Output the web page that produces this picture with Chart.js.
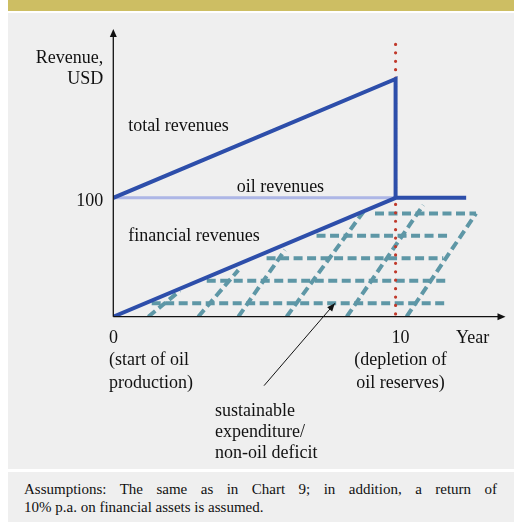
<!DOCTYPE html>
<html>
<head>
<meta charset="utf-8">
<script src="https://cdn.jsdelivr.net/npm/chart.js@4/dist/chart.umd.min.js"></script>
<style>
  html, body { margin: 0; padding: 0; background: #ffffff; width: 514px; height: 522px; overflow: hidden; }
  .band { position: absolute; left: 8px; top: 0; width: 506px; height: 11px; background: #cdbe63; }
  .panel { position: absolute; left: 8px; top: 13px; width: 506px; height: 456px; background: #efefef; }
  .foot { position: absolute; left: 8px; top: 472px; width: 506px; height: 50px; background: #efefef; }
  .line1, .line2 { position: absolute; left: 24px; width: 473px; font-family: "Liberation Serif", "Times New Roman", serif; font-size: 15px; color: #111; white-space: nowrap; }
  .line1 { top: 481px; text-align: justify; text-align-last: justify; white-space: normal; }
  .line2 { top: 499px; }
  canvas { position: absolute; left: 0; top: 0; }
</style>
</head>
<body>
<div class="band"></div>
<div class="panel"></div>
<div class="foot"></div>
<div class="line1">Assumptions: The same as in Chart 9; in addition, a return of</div>
<div class="line2">10% p.a. on financial assets is assumed.</div>
<canvas id="c" width="514" height="522"></canvas>
<script>
// ---------- data ----------
const totalRevenueX = [0, 10, 10, 12.5];
const totalRevenueY = [100, 200, 100, 100];
const oilRevenueX = [0, 10];
const oilRevenueY = [100, 100];
const financialRevenueX = [0, 10];
const financialRevenueY = [0, 100];
const depletionYear = 10;
const depletionLineTop = 229;

// sustainable expenditure hatch (horizontal dashed levels)
const hatchLevels = [11.3, 30.3, 49.1, 68.1, 86.9];
const hatchStartX = [1.36, 3.31, 5.43, 7.2, 9.27];
const hatchEndX = [11.78, 11.87, 11.69, 11.98, 12.85];
// diagonal dashed strokes
const diagFromX = [1.24, 3.01, 4.43, 6.14, 8.27, 10.39];
const diagToX = [2.36, 4.43, 6.08, 8.86, 10.98, 12.85];
const diagToY = [21.8, 39.2, 56.1, 88.2, 93.9, 86.9];

const xTicks = [0, 10];
const xTickLabels = [["0", "(start of oil", "production)"], ["10", "(depletion of", "oil reserves)"]];
const yTicks = [100];
const yTickLabels = ["100"];
const xAxisTitle = "Year";
const yAxisTitle = ["Revenue,", "USD"];
const seriesLabels = ["total revenues", "oil revenues", "financial revenues"];
const noteText = ["sustainable", "expenditure/", "non-oil deficit"];

// ---------- styles ----------
const BLUE = "#2d4eaa";
const LIGHT = "#adb6e6";
const TEAL = "#5e97a6";
const RED = "#c0392b";
const INK = "#111111";
const FONT = '18px "Liberation Serif", "Times New Roman", serif';

function pts(xs, ys) { return xs.map((x, i) => ({ x: x, y: ys[i] })); }

const datasets = [];
datasets.push({ data: pts(totalRevenueX, totalRevenueY), borderColor: BLUE, borderWidth: 4, order: 1, borderJoinStyle: 'miter' });
datasets.push({ data: pts(financialRevenueX, financialRevenueY), borderColor: BLUE, borderWidth: 4, order: 1 });
datasets.push({ data: pts(oilRevenueX, oilRevenueY), borderColor: LIGHT, borderWidth: 3, order: 2 });
// drawn from top downwards so the first dot sits at the top end
datasets.push({ data: [{ x: depletionYear, y: depletionLineTop }, { x: depletionYear, y: 0 }], borderColor: RED, borderWidth: 3.2, borderDash: [0, 8.42], borderCapStyle: 'round', order: 3, clip: false });
hatchLevels.forEach((lv, i) => {
  datasets.push({ data: [{ x: hatchStartX[i], y: lv }, { x: hatchEndX[i], y: lv }], borderColor: TEAL, borderWidth: 4, borderDash: [9, 4.5], order: 4 });
});
diagFromX.forEach((x0, i) => {
  datasets.push({ data: [{ x: x0, y: 0 }, { x: diagToX[i], y: diagToY[i] }], borderColor: TEAL, borderWidth: 4, borderDash: [9, 4.5], order: 4 });
});

function arrowHead(ctx, x, y, ang, len, half) {
  ctx.save();
  ctx.translate(x, y);
  ctx.rotate(ang);
  ctx.beginPath();
  ctx.moveTo(0, 0);
  ctx.lineTo(-len, -half);
  ctx.lineTo(-len, half);
  ctx.closePath();
  ctx.fill();
  ctx.restore();
}

const decor = {
  id: 'decor',
  afterDatasetsDraw(chart) {
    const ctx = chart.ctx;
    const a = chart.chartArea;
    const xs = chart.scales.x, ys = chart.scales.y;
    const X = v => xs.getPixelForValue(v);
    const Y = v => ys.getPixelForValue(v);
    ctx.save();
    ctx.strokeStyle = INK; ctx.fillStyle = INK; ctx.lineWidth = 1.3;
    // axes
    const x0 = X(0), y0 = Y(0);
    ctx.beginPath(); ctx.moveTo(x0, y0); ctx.lineTo(x0, a.top + 4); ctx.stroke();
    arrowHead(ctx, x0, a.top, -Math.PI / 2, 8, 3.5);
    ctx.beginPath(); ctx.moveTo(x0, y0); ctx.lineTo(a.right - 7, y0); ctx.stroke();
    arrowHead(ctx, a.right - 3, y0, 0, 8, 3.5);

    ctx.font = FONT;
    ctx.textBaseline = 'alphabetic';
    // y title
    ctx.textAlign = 'right';
    yAxisTitle.forEach((t, i) => ctx.fillText(t, x0 - 10, a.top + 33.5 + i * 21.5));
    // y ticks
    yTicks.forEach((v, i) => ctx.fillText(yTickLabels[i], x0 - 10, Y(v) + 8));
    // x ticks
    xTicks.forEach((v, i) => {
      const px = X(v);
      xTickLabels[i].forEach((t, j) => {
        if (i === 0) { ctx.textAlign = 'left'; ctx.fillText(t, px - 4.3, y0 + 26 + j * 22.5); }
        else { ctx.textAlign = 'center'; ctx.fillText(t, px + 5, y0 + 26 + j * 22.5); }
      });
    });
    // x title
    ctx.textAlign = 'left';
    ctx.fillText(xAxisTitle, X(12.14), y0 + 26);
    // series labels
    ctx.fillText(seriesLabels[0], X(0.53), Y(156));
    ctx.fillText(seriesLabels[1], X(4.37), Y(104.5));
    ctx.fillText(seriesLabels[2], X(0.53), Y(63.7));
    // note arrow
    const tx = X(5.34), ty = Y(-58), hx = X(7.85), hy = Y(11.3);
    ctx.lineWidth = 1;
    ctx.beginPath(); ctx.moveTo(tx, ty); ctx.lineTo(hx, hy); ctx.stroke();
    arrowHead(ctx, hx, hy, Math.atan2(hy - ty, hx - tx), 8, 3.3);
    // note text
    noteText.forEach((t, i) => ctx.fillText(t, X(3.6), y0 + 99.5 + i * 21));
    ctx.restore();
  }
};

new Chart(document.getElementById('c'), {
  type: 'scatter',
  data: { datasets: datasets.map(d => Object.assign({ showLine: true, pointRadius: 0, pointHoverRadius: 0, fill: false, tension: 0 }, d)) },
  options: {
    responsive: false,
    animation: false,
    devicePixelRatio: 1,
    events: [],
    layout: { padding: { left: 113.3, right: 5.5, top: 29, bottom: 205.3 } },
    plugins: { legend: { display: false }, tooltip: { enabled: false } },
    scales: {
      x: { type: 'linear', min: 0, max: 14, display: false },
      y: { type: 'linear', min: 0, max: 242, display: false }
    }
  },
  plugins: [decor]
});
</script>
</body>
</html>
